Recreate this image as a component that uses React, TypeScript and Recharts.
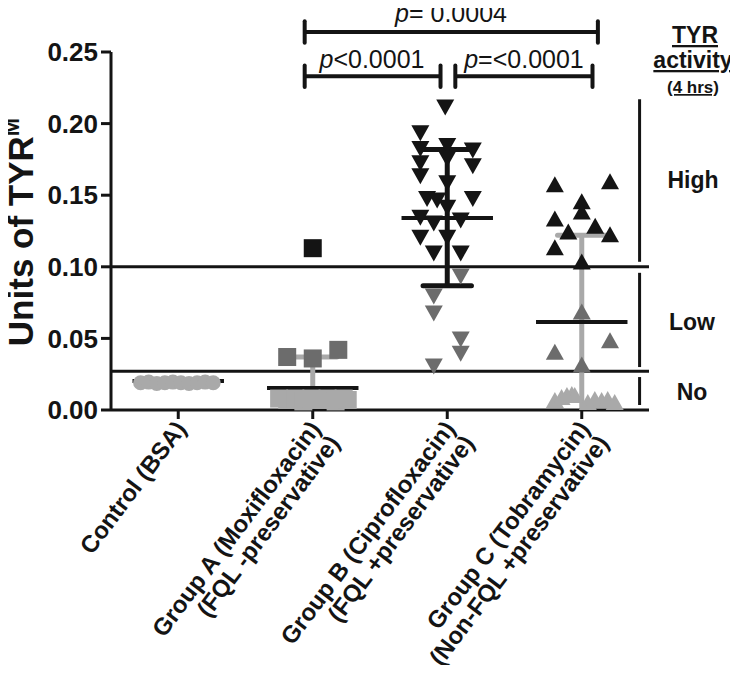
import { ScatterChart, Scatter, XAxis, YAxis, ReferenceLine, Customized } from 'recharts'

const FONT = '"Liberation Sans", Arial, Helvetica, sans-serif'
const BLACK = '#141414'
const DARK = '#6c6c6c'
const LIGHT = '#a9a9a9'

const groupLabels = [
  ['Control (BSA)'],
  ['Group A (Moxifloxacin)', '(FQL -preservative)'],
  ['Group B (Ciprofloxacin)', '(FQL +preservative)'],
  ['Group C (Tobramycin)', '(Non-FQL +preservative)'],
]
const yTicks = [0, 0.05, 0.1, 0.15, 0.2, 0.25]

// control (BSA)
const controlJitter = [-0.28, -0.22, -0.16, -0.1, -0.04, 0.02, 0.08, 0.14, 0.2, 0.26]
const controlValues = [0.019, 0.0195, 0.0185, 0.019, 0.0195, 0.019, 0.0185, 0.019, 0.0195, 0.019]

// group A, moxifloxacin
const aHighJitter = [0]
const aHighValues = [0.113]
const aLowJitter = [-0.19, 0, 0.19]
const aLowValues = [0.037, 0.036, 0.042]
const aNoJitter = [-0.25, -0.19, -0.13, -0.07, -0.01, 0.05, 0.11, 0.17, 0.23, 0.26]
const aNoValues = [0.008, 0.007, 0.008, 0.006, 0.008, 0.007, 0.008, 0.006, 0.008, 0.007]

// group B, ciprofloxacin
const bHighJitter = [-0.015, -0.2, -0.2, -0.2, -0.2, 0, 0, 0, 0.19, 0.19, -0.15, -0.075, 0.19, 0, -0.2, -0.1, 0.1, -0.2, 0, -0.1, 0.1]
const bHighValues = [0.212, 0.194, 0.183, 0.173, 0.164, 0.185, 0.176, 0.159, 0.182, 0.171, 0.148, 0.147, 0.148, 0.142, 0.135, 0.131, 0.133, 0.121, 0.121, 0.11, 0.11]
const bLowJitter = [0.1, -0.1, -0.1, 0.1, 0.1, -0.1]
const bLowValues = [0.094, 0.08, 0.068, 0.05, 0.04, 0.031]

// group C, tobramycin
const cHighJitter = [-0.2, 0.21, 0, 0, -0.2, -0.1, 0.1, 0.21, -0.2, 0]
const cHighValues = [0.157, 0.159, 0.145, 0.138, 0.133, 0.124, 0.128, 0.122, 0.113, 0.103]
const cLowJitter = [0, -0.2, 0.21, 0]
const cLowValues = [0.068, 0.04, 0.048, 0.031]
const cNoJitter = [-0.2, -0.15, -0.11, -0.074, -0.052, 0.045, 0.097, 0.148, 0.193, 0.245]
const cNoValues = [0.0063, 0.0084, 0.0098, 0.0105, 0.0098, 0.0049, 0.007, 0.0063, 0.007, 0.0049]

// mean and SD bars per group
const groupMeans = [0.0203, 0.0154, 0.134, 0.0615]
const sdLow = [0.0203, 0, 0.0867, 0.001]
const sdHigh = [0.0203, 0.037, 0.182, 0.122]
const sdColors = [LIGHT, LIGHT, BLACK, LIGHT]

// TYR activity cut-offs
const cutoffs = [0.1, 0.027]
const activityBands = [[0.217, 0.1035], [0.0958, 0.03], [0.023, 0.0035]]

// significance brackets
const brackets = [
  { from: 0.94, to: 3.12, level: 0.264 },
  { from: 0.94, to: 1.95, level: 0.233 },
  { from: 2.06, to: 3.08, level: 0.233 },
]

const pts = (g: number, jitter: number[], values: number[]) => values.map((v, i) => ({ x: g + jitter[i], y: v }))

const circle = (fill: string) => (p: any) => <circle cx={p.cx} cy={p.cy} r={7.5} fill={fill} />
const square = (fill: string) => (p: any) => <rect x={p.cx - 9} y={p.cy - 9} width={18} height={18} fill={fill} />
const upTri = (fill: string) => (p: any) => (
  <polygon points={`${p.cx},${p.cy - 9} ${p.cx + 9},${p.cy + 7} ${p.cx - 9},${p.cy + 7}`} fill={fill} />
)
const downTri = (fill: string) => (p: any) => (
  <polygon points={`${p.cx - 9},${p.cy - 7} ${p.cx + 9},${p.cy - 7} ${p.cx},${p.cy + 9}`} fill={fill} />
)

function XTick({ x, y, payload }: any) {
  const lines = groupLabels[payload.value] || []
  return (
    <g transform={`translate(${x + 9},${y + 8})`}>
      <text transform="rotate(-53)" textAnchor="end" fontSize={24} fontWeight="bold" fill={BLACK} fontFamily={FONT}>
        {lines.map((l, i) => (
          <tspan key={i} x={0} dy={i === 0 ? 0 : 24}>{l}</tspan>
        ))}
      </text>
    </g>
  )
}

function Annotations() {
  return (
    <g fontFamily={FONT} fill={BLACK}>
      <text x={33} y={232} transform="rotate(-90 33 232)" textAnchor="middle" fontSize={35} fontWeight="bold">
        Units of TYR<tspan dy={-14} fontSize={22}>M</tspan>
      </text>
      <text x={451} y={22} textAnchor="middle" fontSize={25}><tspan fontStyle="italic">p</tspan>= 0.0004</text>
      <text x={372} y={68} textAnchor="middle" fontSize={25}><tspan fontStyle="italic">p</tspan>&lt;0.0001</text>
      <text x={524} y={68} textAnchor="middle" fontSize={25}><tspan fontStyle="italic">p</tspan>=&lt;0.0001</text>
      <text x={695} y={43} textAnchor="middle" fontSize={23} fontWeight="bold" textDecoration="underline">TYR</text>
      <text x={693} y={68} textAnchor="middle" fontSize={23} fontWeight="bold" textDecoration="underline">activity</text>
      <text x={693} y={93} textAnchor="middle" fontSize={17} fontWeight="bold" textDecoration="underline">(4 hrs)</text>
      <text x={693} y={188} textAnchor="middle" fontSize={23} fontWeight="bold">High</text>
      <text x={692} y={330} textAnchor="middle" fontSize={23} fontWeight="bold">Low</text>
      <text x={692} y={400} textAnchor="middle" fontSize={23} fontWeight="bold">No</text>
    </g>
  )
}

export default function App() {
  return (
    <div style={{ margin: -8, width: 738, height: 673, background: '#fff' }}>
      <ScatterChart width={738} height={673} margin={{ top: 52, right: 89, left: 51, bottom: 233 }}>
        <XAxis
          type="number"
          dataKey="x"
          domain={[-0.5, 3.5]}
          ticks={[0, 1, 2, 3]}
          interval={0}
          height={30}
          tickSize={9}
          tick={<XTick />}
          axisLine={{ stroke: BLACK, strokeWidth: 3 }}
          tickLine={{ stroke: BLACK, strokeWidth: 3 }}
        />
        <YAxis
          type="number"
          dataKey="y"
          domain={[0, 0.25]}
          ticks={yTicks}
          width={60}
          tickSize={10}
          tickMargin={3}
          tickFormatter={(v: number) => v.toFixed(2)}
          tick={{ fontSize: 26, fontWeight: 'bold', fill: BLACK, fontFamily: FONT }}
          axisLine={{ stroke: BLACK, strokeWidth: 3 }}
          tickLine={{ stroke: BLACK, strokeWidth: 3 }}
        />
        <Scatter data={pts(0, controlJitter, controlValues)} shape={circle(LIGHT)} isAnimationActive={false} />
        <Scatter data={pts(1, aNoJitter, aNoValues)} shape={square(LIGHT)} isAnimationActive={false} />
        <Scatter data={pts(1, aLowJitter, aLowValues)} shape={square(DARK)} isAnimationActive={false} />
        <Scatter data={pts(1, aHighJitter, aHighValues)} shape={square(BLACK)} isAnimationActive={false} />
        <Scatter data={pts(2, bHighJitter, bHighValues)} shape={downTri(BLACK)} isAnimationActive={false} />
        <Scatter data={pts(2, bLowJitter, bLowValues)} shape={downTri(DARK)} isAnimationActive={false} />
        <Scatter data={pts(3, cNoJitter, cNoValues)} shape={upTri(LIGHT)} isAnimationActive={false} />
        <Scatter data={pts(3, cLowJitter, cLowValues)} shape={upTri(DARK)} isAnimationActive={false} />
        <Scatter data={pts(3, cHighJitter, cHighValues)} shape={upTri(BLACK)} isAnimationActive={false} />

        {cutoffs.map((c) => (
          <ReferenceLine key={'c' + c} y={c} stroke={BLACK} strokeWidth={3} />
        ))}
        {activityBands.map(([a, b], i) => (
          <ReferenceLine key={'band' + i} segment={[{ x: 3.43, y: a }, { x: 3.43, y: b }]} stroke={BLACK} strokeWidth={3} />
        ))}

        {groupMeans.map((m, g) =>
          sdHigh[g] > m ? (
            <ReferenceLine
              key={'sd' + g}
              segment={[{ x: g, y: Math.max(sdLow[g], 0.001) }, { x: g, y: sdHigh[g] }]}
              stroke={sdColors[g]}
              strokeWidth={5}
            />
          ) : null
        )}
        {groupMeans.map((m, g) =>
          sdHigh[g] > m ? (
            <ReferenceLine
              key={'capHi' + g}
              segment={[{ x: g - 0.18, y: sdHigh[g] }, { x: g + 0.18, y: sdHigh[g] }]}
              stroke={sdColors[g]}
              strokeWidth={5}
              strokeLinecap="round"
            />
          ) : null
        )}
        {groupMeans.map((m, g) =>
          sdLow[g] > 0.01 && sdLow[g] < m ? (
            <ReferenceLine
              key={'capLo' + g}
              segment={[{ x: g - 0.18, y: sdLow[g] }, { x: g + 0.18, y: sdLow[g] }]}
              stroke={sdColors[g]}
              strokeWidth={5}
              strokeLinecap="round"
            />
          ) : null
        )}
        {groupMeans.map((m, g) => (
          <ReferenceLine key={'mean' + g} segment={[{ x: g - 0.34, y: m }, { x: g + 0.34, y: m }]} stroke={BLACK} strokeWidth={4} />
        ))}

        {brackets.map((b, i) => (
          <ReferenceLine
            key={'br' + i}
            segment={[{ x: b.from, y: b.level }, { x: b.to, y: b.level }]}
            stroke={BLACK}
            strokeWidth={4}
            ifOverflow="visible"
          />
        ))}
        {brackets.flatMap((b, i) =>
          [b.from, b.to].map((bx, j) => (
            <ReferenceLine
              key={'brc' + i + '-' + j}
              segment={[{ x: bx, y: b.level - 0.0075 }, { x: bx, y: b.level + 0.0075 }]}
              stroke={BLACK}
              strokeWidth={4}
              strokeLinecap="round"
              ifOverflow="visible"
            />
          ))
        )}
        <Customized component={<Annotations />} />
      </ScatterChart>
    </div>
  )
}
